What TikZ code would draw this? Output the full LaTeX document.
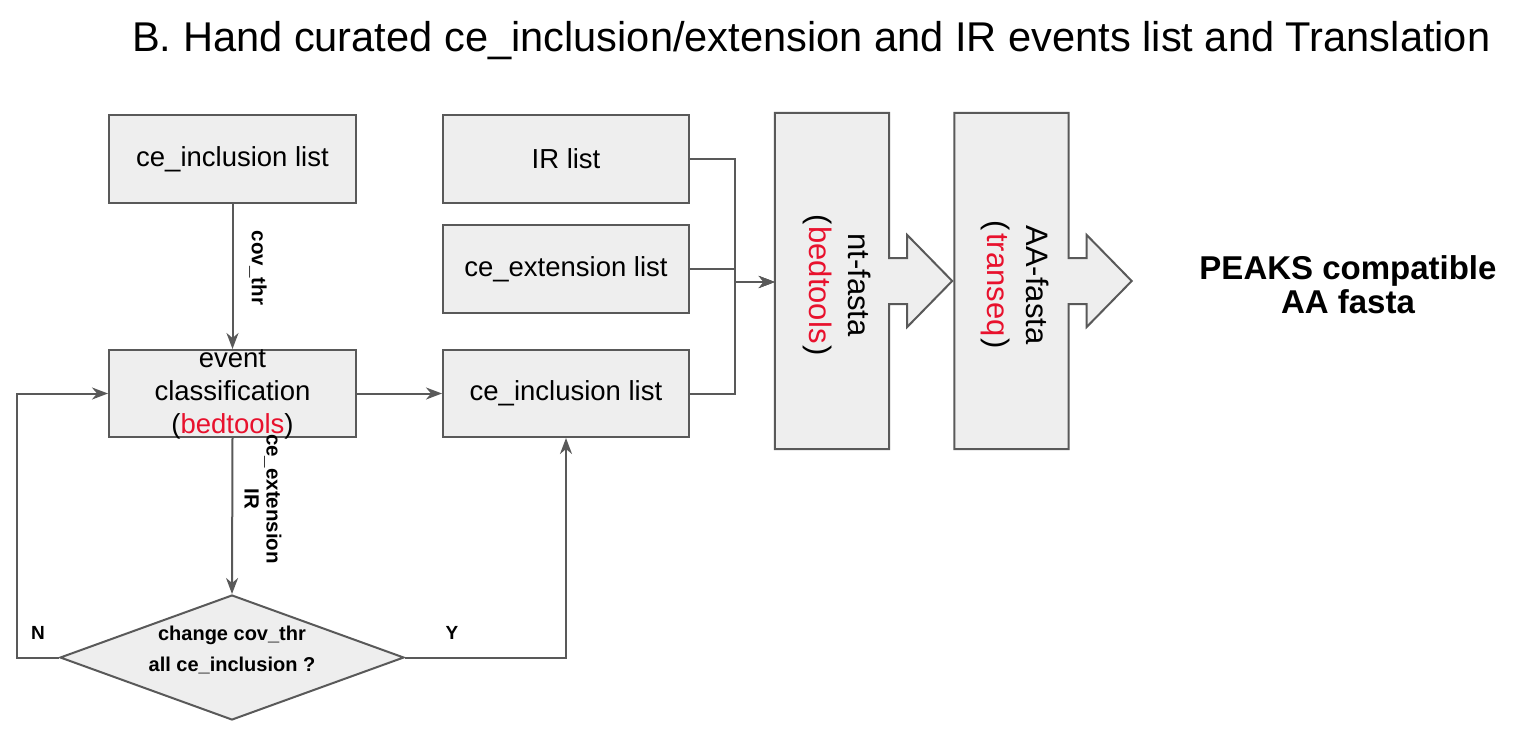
\documentclass[tikz,border=0pt]{standalone}
\usepackage{fontspec}
\setmainfont{Liberation Sans}
\usetikzlibrary{shapes.geometric,arrows.meta}
\definecolor{fillg}{HTML}{EEEEEE}
\definecolor{lineg}{HTML}{595959}
\definecolor{redt}{HTML}{E8112D}
\newcommand{\blockarrowshape}[1]{%
  \draw[draw=lineg, fill=fillg, line width=2pt, line join=miter]
    (#1.north west) -- (#1.north east) -- ([yshift=23pt]#1.east)
    -- ([xshift=18pt,yshift=23pt]#1.east) -- ([xshift=18pt,yshift=46pt]#1.east)
    -- ([xshift=63pt]#1.east)
    -- ([xshift=18pt,yshift=-46pt]#1.east) -- ([xshift=18pt,yshift=-23pt]#1.east)
    -- ([yshift=-23pt]#1.east) -- (#1.south east) -- (#1.south west) -- cycle;}
\begin{document}
\begin{tikzpicture}[x=1pt,y=-1pt,
  boxfont/.style={font=\fontsize{27.5}{33}\selectfont},
  box/.style={draw=lineg, fill=fillg, line width=2pt, inner sep=0pt, align=center, boxfont},
  listbox/.style={box, minimum width=246pt, minimum height=88pt},
  blk/.style={inner sep=0pt, minimum width=114pt, minimum height=336pt},
  blktext/.style={rotate=-90, align=center, inner sep=0pt, font=\fontsize{31}{39}\selectfont},
  conn/.style={draw=lineg, line width=2pt, -{Stealth[length=16pt,width=12pt,inset=5pt]}},
  lbl/.style={font=\bfseries\fontsize{19}{22}\selectfont, inner sep=0pt, align=center},
  rlbl/.style={lbl, rotate=-90, font=\bfseries\fontsize{20.5}{22}\selectfont},
  decision/.style={diamond, shape aspect=2.75, draw=lineg, fill=fillg, line width=2pt,
    inner sep=0pt, minimum width=344pt, minimum height=125pt}
]
\useasboundingbox (0,0) rectangle (1528,730);

% title
\node[anchor=base west, inner sep=0pt, font=\fontsize{41.6}{48}\selectfont] (title) at (132,52)
  {B. Hand curated ce\_inclusion/extension and IR events list and Translation};

% left column
\node[listbox, minimum width=247pt] (ceinc) at (232.5,159.5) {ce\_inclusion list};
\node[listbox, minimum width=247pt, minimum height=87pt] (evc) at (232.5,393.5) {};
\node[inner sep=0pt, align=center, boxfont] (evct) at (232.5,394.5)
  {event\\classification\\(\textcolor{redt}{bedtools})};
\node[decision] (dec) at (232,657.5) {};
\node[lbl, font=\bfseries\fontsize{20}{31}\selectfont] (dect) at (232,650)
  {change cov\_thr\\all ce\_inclusion ?};

% middle column
\node[listbox] (irl) at (566,159) {IR list};
\node[listbox] (cex) at (566,269) {ce\_extension list};
\node[listbox, minimum height=87pt] (ceinc2) at (566,393.5) {ce\_inclusion list};

% block arrows
\node[blk] (nt) at (832,281) {};
\blockarrowshape{nt}
\node[blktext] (ntt) at (837,285) {nt-fasta\\(\hspace{2pt}\textcolor{redt}{bedtools}\hspace{2pt})};
\node[blk] (aa) at (1011.5,281) {};
\blockarrowshape{aa}
\node[blktext] (aat) at (1015,285) {AA-fasta\\(\hspace{2pt}\textcolor{redt}{transeq}\hspace{2pt})};

% result
\node[lbl, font=\bfseries\fontsize{33}{34}\selectfont] (peaks) at (1348,285)
  {PEAKS compatible\\AA fasta};

% helper coordinates
\coordinate (jn) at (735,282);
\coordinate (nl) at (17,0);

% connectors
\draw[conn] (ceinc.south) -- (evc.north);
\node[rlbl] (covl) at (258,268) {cov\_thr};
\draw[conn] (evc.south) -- (dec.north);
\node[rlbl] (extl) at (263,499) {ce\_extension\\IR};
\draw[conn] (evc.east) -- (ceinc2.west);
\draw[conn] (dec.west) -- (dec.west -| nl) |- (evc.west);
\draw[conn] (dec.east) -| (ceinc2.south);
\node[lbl] (nlab) at (38,633) {N};
\node[lbl] (ylab) at (452,633) {Y};

\draw[conn] (irl.east) -| (jn) -- (jn -| nt.west);
\draw[conn] (cex.east) -| (jn) -- (jn -| nt.west);
\draw[conn] (ceinc2.east) -| (jn) -- (jn -| nt.west);
\end{tikzpicture}
\end{document}
